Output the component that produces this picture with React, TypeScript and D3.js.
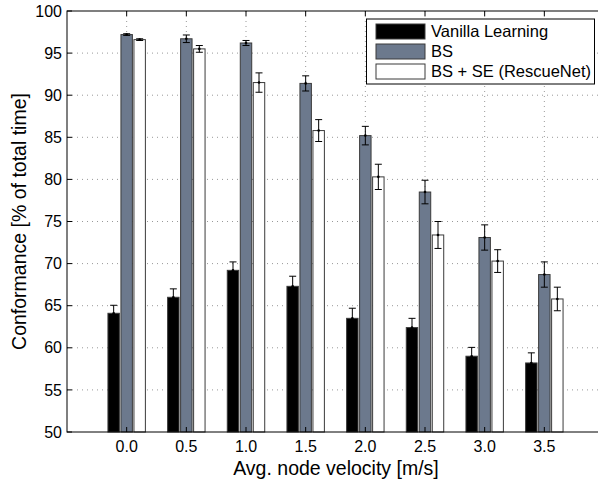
import React from 'react';
import * as d3 from 'd3';

const velocities = [0.0, 0.5, 1.0, 1.5, 2.0, 2.5, 3.0, 3.5];
const seriesNames = ['Vanilla Learning', 'BS', 'BS + SE (RescueNet)'];

const vanilla = [64.1, 66.0, 69.2, 67.3, 63.5, 62.4, 59.0, 58.2];
const vanillaErr = [0.95, 1.0, 1.0, 1.2, 1.2, 1.1, 1.05, 1.2];
const bs = [97.2, 96.7, 96.2, 91.4, 85.2, 78.5, 73.1, 68.7];
const bsErr = [0.1, 0.45, 0.3, 0.9, 1.1, 1.4, 1.5, 1.5];
const rescue = [96.6, 95.5, 91.5, 85.8, 80.3, 73.4, 70.3, 65.8];
const rescueErr = [0.1, 0.4, 1.15, 1.3, 1.5, 1.6, 1.35, 1.4];

const yTicks = [50, 55, 60, 65, 70, 75, 80, 85, 90, 95, 100];

const fills = ['#000000', '#6c798d', '#ffffff'];
const font = '"Liberation Sans", Arial, Helvetica, sans-serif';

export default function App() {
  const width = 598;
  const height = 484;
  const plot = { left: 67, top: 11, right: 604, bottom: 432 };

  const x = d3.scaleLinear().domain([-0.5, 4.0]).range([plot.left, plot.right]);
  const y = d3.scaleLinear().domain([50, 100]).range([plot.bottom, plot.top]);
  const inner = d3.scaleBand<number>().domain([0, 1, 2]).range([-19.5, 19.5]).paddingInner(0.12).paddingOuter(0.06);

  const values = [vanilla, bs, rescue];
  const errs = [vanillaErr, bsErr, rescueErr];
  const fmt = d3.format('.1f');
  const capW = 3.5;

  return (
    <svg width={width} height={height} style={{ position: 'absolute', left: 0, top: 0, background: '#fff' }}
      fontFamily={font}>
      {/* grid */}
      <g stroke="#999" strokeWidth={1} strokeDasharray="1,4">
        {yTicks.slice(1, -1).map(t => (
          <line key={'gy' + t} x1={plot.left} x2={plot.right} y1={y(t)} y2={y(t)} />
        ))}
        {velocities.map(v => (
          <line key={'gx' + v} x1={x(v)} x2={x(v)} y1={plot.top} y2={plot.bottom} />
        ))}
      </g>

      {/* bars */}
      {values.map((vals, s) => (
        <g key={'s' + s}>
          {vals.map((v, i) => (
            <rect key={i} x={x(velocities[i]) + inner(s)!} width={inner.bandwidth()}
              y={y(v)} height={y(50) - y(v)} fill={fills[s]} stroke="#3a3a3a" strokeWidth={1} />
          ))}
        </g>
      ))}

      {/* error bars */}
      {values.map((vals, s) => (
        <g key={'e' + s} stroke="#000" strokeWidth={1} fill="#000">
          {vals.map((v, i) => {
            const cx = x(velocities[i]) + inner(s)! + inner.bandwidth() / 2;
            const lo = y(v - errs[s][i]);
            const hi = y(v + errs[s][i]);
            return (
              <g key={i}>
                <line x1={cx} x2={cx} y1={lo} y2={hi} />
                <line x1={cx - capW} x2={cx + capW} y1={lo} y2={lo} />
                <line x1={cx - capW} x2={cx + capW} y1={hi} y2={hi} />
                <circle cx={cx} cy={y(v)} r={1.3} stroke="none" />
              </g>
            );
          })}
        </g>
      ))}

      {/* axes box */}
      <rect x={plot.left} y={plot.top} width={plot.right - plot.left} height={plot.bottom - plot.top}
        fill="none" stroke="#000" strokeWidth={1} />
      <g stroke="#000" strokeWidth={1}>
        {yTicks.map(t => (
          <line key={'ty' + t} x1={plot.left} x2={plot.left + 5} y1={y(t)} y2={y(t)} />
        ))}
        {velocities.map(v => (
          <g key={'tx' + v}>
            <line x1={x(v)} x2={x(v)} y1={plot.top} y2={plot.top + 5} />
            <line x1={x(v)} x2={x(v)} y1={plot.bottom} y2={plot.bottom - 5} />
          </g>
        ))}
      </g>

      {/* tick labels */}
      <g fontSize={16} fill="#000">
        {yTicks.map(t => (
          <text key={'ly' + t} x={plot.left - 5} y={y(t)} dy="0.35em" textAnchor="end">{t}</text>
        ))}
        {velocities.map(v => (
          <text key={'lx' + v} x={x(v)} y={plot.bottom + 20} textAnchor="middle">{fmt(v)}</text>
        ))}
      </g>

      {/* axis titles */}
      <text x={336} y={475} textAnchor="middle" fontSize={19.5}>Avg. node velocity [m/s]</text>
      <text transform={`translate(26,${(plot.top + plot.bottom) / 2}) rotate(-90)`} textAnchor="middle"
        fontSize={19.5}>Conformance [% of total time]</text>

      {/* legend */}
      <g>
        <rect x={366.5} y={19} width={228} height={65} fill="#fff" stroke="#000" strokeWidth={1} />
        {seriesNames.map((name, s) => (
          <g key={'lg' + s} transform={`translate(376,${24 + s * 20})`}>
            <rect x={0} y={0} width={49} height={15} fill={fills[s]} stroke="#3a3a3a" strokeWidth={1} />
            <text x={55} y={7.5} dy="0.36em" fontSize={16.5}>{name}</text>
          </g>
        ))}
      </g>
    </svg>
  );
}
